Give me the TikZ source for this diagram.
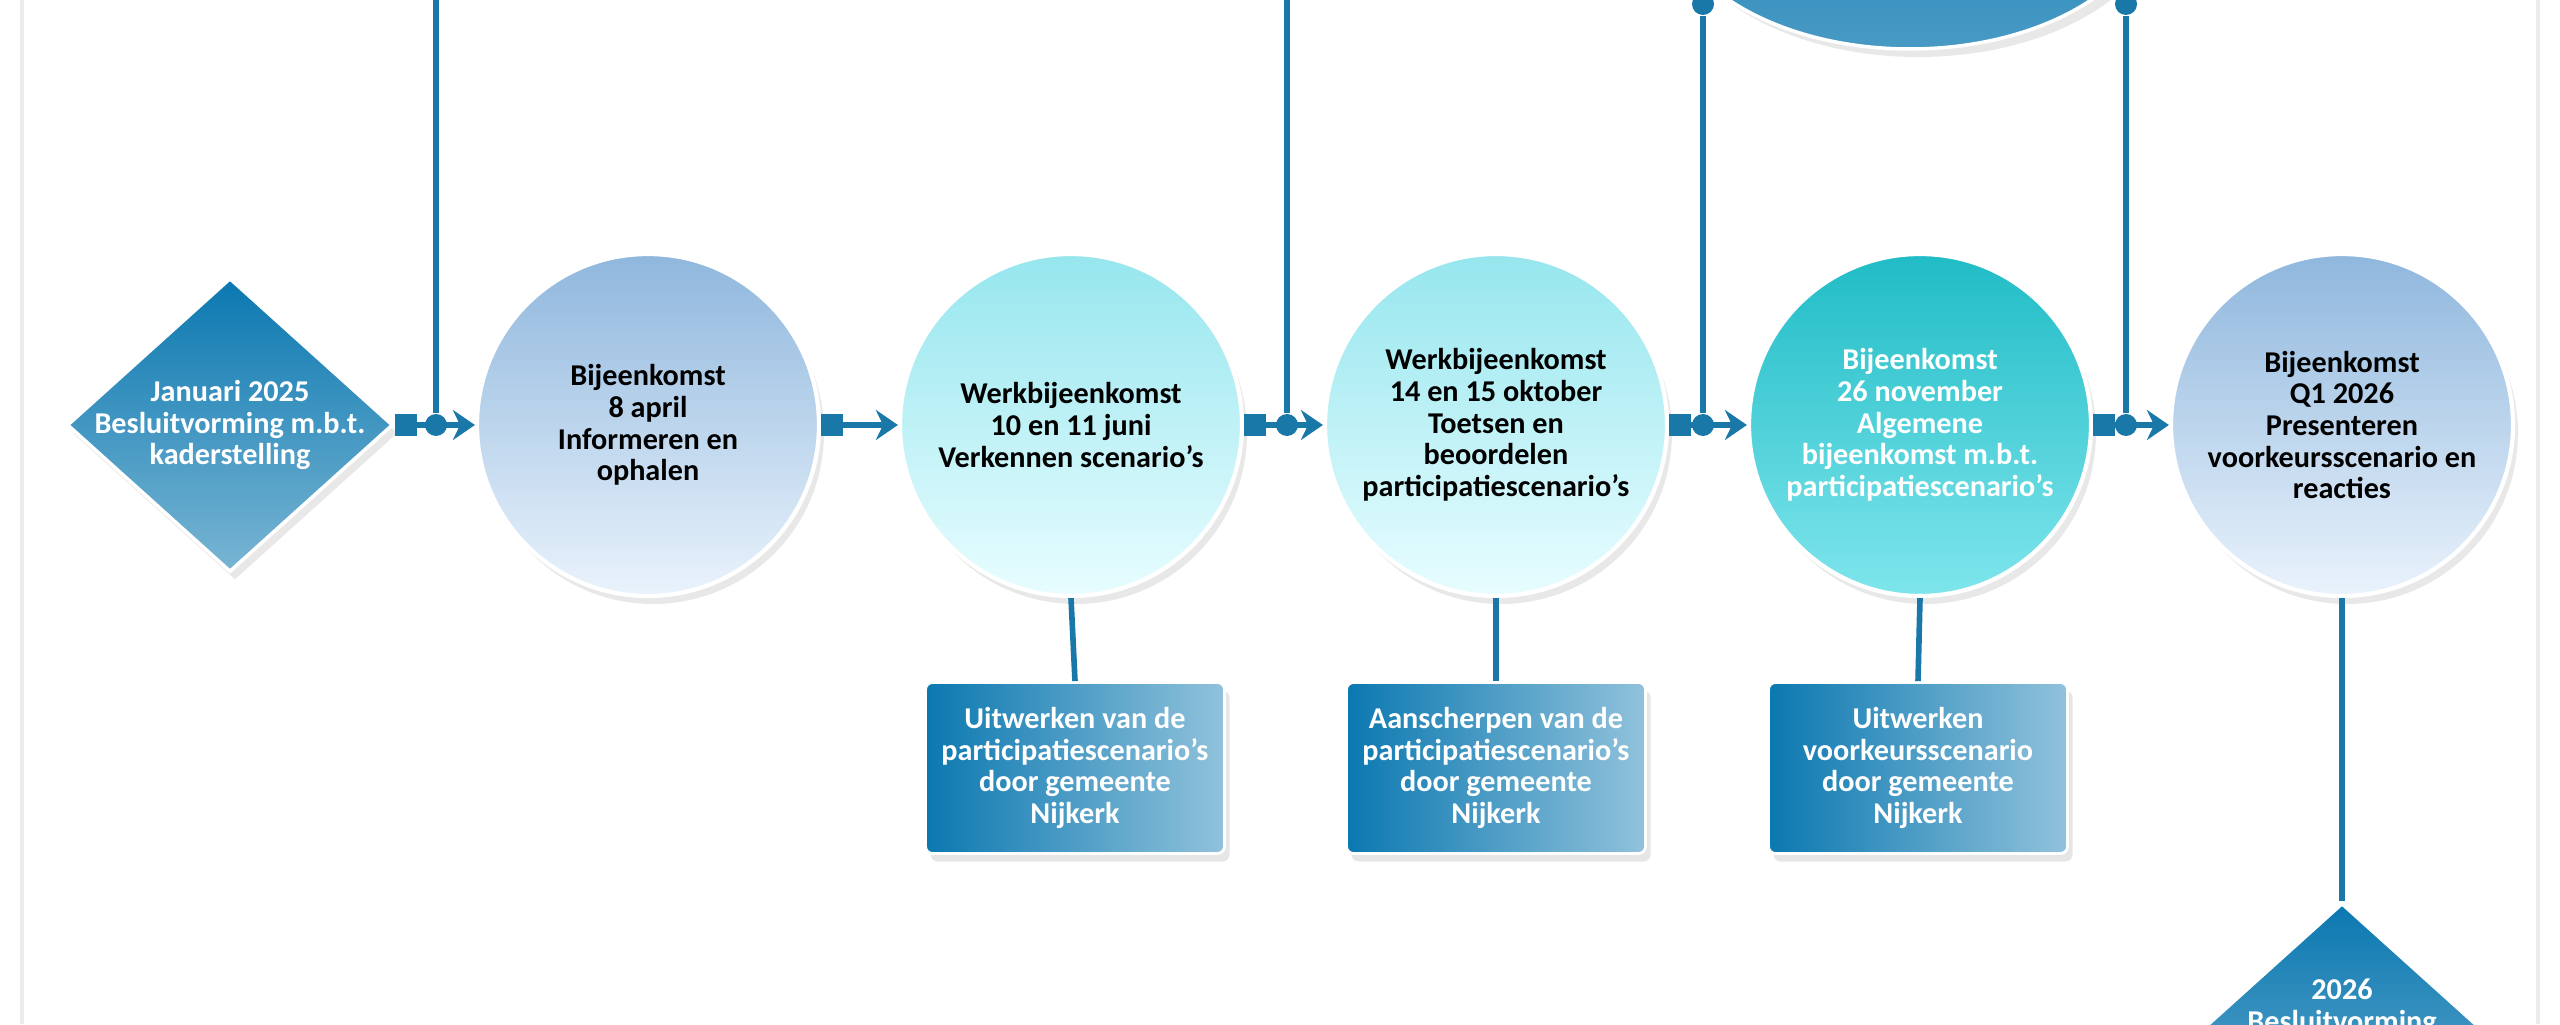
\documentclass[tikz,border=0pt]{standalone}
\usepackage{fontspec}
\setmainfont{Carlito}
\usetikzlibrary{shapes.geometric,arrows.meta,shadows}
\definecolor{deepblue}{HTML}{0B78B0}
\definecolor{lineblue}{HTML}{1A78A8}
\definecolor{paleblue}{HTML}{8FB7DD}
\definecolor{iceblue}{HTML}{EAF3FC}
\definecolor{cyanlite}{HTML}{96E6EE}
\definecolor{cyanpale}{HTML}{E8FDFF}
\definecolor{tealmid}{HTML}{20BCC6}
\definecolor{teallite}{HTML}{7FE5EC}
\tikzset{
  txt/.style={font=\bfseries\fontsize{8.6}{9}\selectfont,align=center},
  event/.style={circle,minimum size=3.42cm,inner sep=0pt,txt,
    draw=white,line width=1.2pt,drop shadow={opacity=0.18,shadow xshift=0.5mm,shadow yshift=-0.8mm}},
  meet/.style={event,top color=paleblue,bottom color=iceblue},
  work/.style={event,top color=cyanlite,bottom color=cyanpale},
  plenary/.style={event,top color=tealmid,bottom color=teallite,text=white},
  milestone/.style={diamond,minimum width=3.26cm,minimum height=2.94cm,inner sep=-4mm,txt,text=white,
    top color=deepblue,bottom color=deepblue!55!white,draw=white,line width=1pt,
    drop shadow={opacity=0.18,shadow xshift=0.5mm,shadow yshift=-0.8mm}},
  task/.style={rectangle,rounded corners=2pt,minimum width=2.99cm,minimum height=1.71cm,txt,text=white,
    left color=deepblue,right color=deepblue!45!white,draw=white,line width=0.8pt,
    drop shadow={opacity=0.2,shadow xshift=0.5mm,shadow yshift=-0.8mm}},
  link/.style={lineblue,line width=1.6pt},
  flow/.style={link,{Square[length=2.2mm,width=2.2mm]}-{Stealth[length=2.2mm,width=3mm]}},
  knot/.style={circle,fill=lineblue,inner sep=0pt,minimum size=2.2mm}
}
\begin{document}
\begin{tikzpicture}
  \useasboundingbox (0,0) rectangle (25.6,10.24);
  \clip (0,0) rectangle (25.6,10.24);
  % faint frame
  \draw[gray!15,line width=1pt] (0.22,0) -- (0.22,10.24) (25.38,0) -- (25.38,10.24);
  % top ellipse, cut by the edge
  \node[ellipse,minimum width=4.9cm,minimum height=3cm,top color=deepblue,bottom color=deepblue!75!white,
    draw=white,line width=1pt,drop shadow={opacity=0.18,shadow yshift=-0.8mm}] (plan) at (19.1,11.25) {};
  % milestones and events
  \node[milestone] (jan) at (2.30,5.99) {Januari 2025\\Besluitvorming m.b.t.\\kaderstelling};
  \node[meet] (apr) at (6.48,5.99) {Bijeenkomst\\8 april\\Informeren en\\ophalen};
  \node[work] (jun) at (10.71,5.99) {Werkbijeenkomst\\10 en 11 juni\\Verkennen scenario’s};
  \node[work] (okt) at (14.96,5.99) {Werkbijeenkomst\\14 en 15 oktober\\Toetsen en\\beoordelen\\participatiescenario’s};
  \node[plenary] (nov) at (19.20,5.99) {Bijeenkomst\\26 november\\Algemene\\bijeenkomst m.b.t.\\participatiescenario’s};
  \node[meet] (q1) at (23.42,5.99) {Bijeenkomst\\Q1 2026\\Presenteren\\voorkeursscenario en\\reacties};
  \node[milestone,text depth=0.9cm] (end) at (23.42,-0.26) {2026\\Besluitvorming};
  % tasks
  \node[task] (t1) at (10.75,2.56) {Uitwerken van de\\participatiescenario’s\\door gemeente\\Nijkerk};
  \node[task] (t2) at (14.96,2.56) {Aanscherpen van de\\participatiescenario’s\\door gemeente\\Nijkerk};
  \node[task] (t3) at (19.18,2.56) {Uitwerken\\voorkeursscenario\\door gemeente\\Nijkerk};
  % timeline
  \draw[flow] (jan.east) -- (apr.west);
  \draw[flow] (apr.east) -- (jun.west);
  \draw[flow] (jun.east) -- (okt.west);
  \draw[flow] (okt.east) -- (nov.west);
  \draw[flow] (nov.east) -- (q1.west);
  % junctions from above
  \node[knot] (k1) at (4.36,5.99) {};
  \node[knot] (k2) at (12.87,5.99) {};
  \node[knot] (k3) at (17.03,5.99) {};
  \node[knot] (k4) at (21.26,5.99) {};
  \node[knot] (k5) at (17.03,10.2) {};
  \node[knot] (k6) at (21.26,10.2) {};
  \draw[link] (k1) -- (4.36,10.24);
  \draw[link] (k2) -- (12.87,10.24);
  \draw[link] (k3) -- (k5);
  \draw[link] (k4) -- (k6);
  % down to tasks
  \draw[link] (jun.south) -- (t1.north);
  \draw[link] (okt.south) -- (t2.north);
  \draw[link] (nov.south) -- (t3.north);
  \draw[link] (q1.south) -- (end.north);
\end{tikzpicture}
\end{document}
